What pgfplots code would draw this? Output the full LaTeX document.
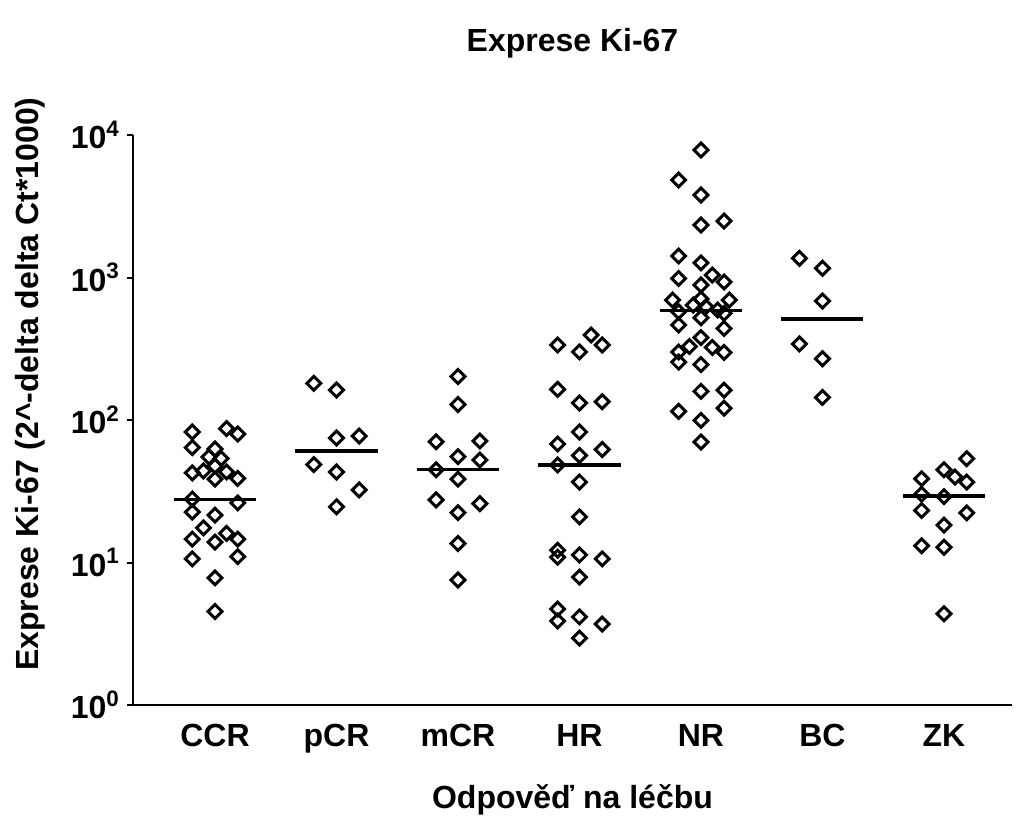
\documentclass[border=0pt]{standalone}
\usepackage{fontspec}
\setmainfont{Liberation Sans}
\usepackage{pgfplots}
\pgfplotsset{compat=1.18}
\newcommand\lbl{\fontsize{16pt}{19pt}\selectfont\bfseries}
\pgfplotsset{dia/.style={only marks, mark=square, mark size=2.45pt, mark options={rotate=45, line width=1.5pt, fill=none, black}}}
\begin{document}
\begin{tikzpicture}
\useasboundingbox (-66.5pt,-63.5pt) rectangle (441.5pt,352.5pt);
\begin{axis}[
  at={(0pt,0pt)}, anchor=south west,
  scale only axis, width=439.5pt, height=285pt,
  xmin=0.325, xmax=7.56, ymin=1, ymax=10000, ymode=log,
  axis x line=bottom, axis y line=left,
  x axis line style={-, line width=1.2pt},
  y axis line style={-, line width=1.2pt},
  xtick={1,...,7}, xticklabels={CCR,pCR,mCR,HR,NR,BC,ZK},
  ytick={1,10,100,1000,10000},
  yticklabels={10\textsuperscript{0},10\textsuperscript{1},10\textsuperscript{2},10\textsuperscript{3},10\textsuperscript{4}},
  yminorticks=false,
  tick align=outside, major tick length=3pt,
  ticklabel style={font=\lbl},
  xtick style={draw=none},
  ytick style={line width=1pt, black},
  xticklabel style={yshift=-3pt},
  clip=false,
  title={Exprese Ki-67},
  title style={at={(axis description cs:0.5,1.140)}, anchor=center, font=\lbl},
  xlabel={Odpověď na léčbu},
  xlabel style={at={(axis description cs:0.5,-0.1667)}, anchor=center, font=\lbl},
  ylabel={Exprese Ki-67 (2\textasciicircum-delta delta Ct*1000)},
  ylabel style={at={(axis description cs:-0.1172,0.563)}, anchor=center, font=\lbl},
]
% CCR
\addplot[dia] coordinates {
(0.813,82.4) (1.095,87.1) (1.187,79.8) (0.813,64.1) (1.0,62.6) (0.95,55.0) (1.05,53.7) (0.813,42.5) (0.905,43.9) (1.0,47.5) (1.095,43.2) (1.0,38.5) (1.187,38.9) (0.813,27.9) (1.187,26.2) (0.813,22.6) (1.0,21.5) (0.905,17.5) (1.095,16.0) (0.813,14.6) (1.0,13.9) (1.187,14.6) (1.187,11.0) (0.813,10.6) (1.0,7.8) (1.0,4.53)};
% pCR
\addplot[dia] coordinates {
(1.813,181) (2.0,162.4) (2.0,74.8) (2.187,77.2) (1.813,48.7) (2.0,43.2) (2.187,32.3) (2.0,24.6)};
% mCR
\addplot[dia] coordinates {
(3,202) (3,128.5) (2.82,70.4) (3.18,71.2) (3,55.3) (3.18,52.4) (2.82,44.8) (3,38.5) (2.82,27.5) (3.18,25.9) (3,22.4) (3,13.6) (3,7.54)};
% HR
\addplot[dia] coordinates {
(3.82,336) (4,301) (4.096,395) (4.187,336) (3.82,164) (4,131.6) (4.187,134.4) (4,82.4) (3.82,67.9) (4.187,62.1) (4,56.4) (3.82,48.3) (4,36.7) (4,20.9) (3.82,12.2) (3.82,10.9) (4,11.3) (4.187,10.6) (4,7.9) (3.82,4.72) (3.82,3.89) (4,4.15) (4.187,3.70) (4,2.95)};
% NR
\addplot[dia] coordinates {
(5,7852) (4.816,4831) (5,3793) (5,2335) (5.19,2490) (4.816,1416) (5,1268) (4.816,984) (5.093,1041) (5.19,930) (5,886) (4.766,695) (5,707) (5.233,695) (4.937,641) (4.816,575) (5.04,624) (5.137,592) (5.19,561) (5,522) (4.816,464) (5.19,439) (5,379) (4.904,328) (5.093,323) (4.816,300) (5.19,298) (4.816,255) (5,245) (5,159) (5.19,162) (5.19,121) (4.816,115) (5,99.5) (5,70.1)};
% BC
\addplot[dia] coordinates {
(5.81,1364) (6,1161) (6,684) (5.81,342) (6,269) (6,144)};
% ZK
\addplot[dia] coordinates {
(7.187,53.5) (7,44.8) (7.09,39.8) (7.187,36.7) (6.816,38.7) (6.816,30.1) (7,29.0) (6.816,23.2) (7.187,22.3) (7,18.3) (6.816,13.1) (7,12.8) (7,4.37)};
% medians
\addplot[black, no marks, line width=1.6pt] coordinates {(0.6625,27.8) (1.3375,27.8)};
\addplot[black, no marks, line width=1.6pt] coordinates {(1.6625,60.6) (2.3375,60.6)};
\addplot[black, no marks, line width=1.6pt] coordinates {(2.6625,45.1) (3.3375,45.1)};
\addplot[black, no marks, line width=1.6pt] coordinates {(3.6625,48.3) (4.3375,48.3)};
\addplot[black, no marks, line width=1.6pt] coordinates {(4.6625,589) (5.3375,589)};
\addplot[black, no marks, line width=1.6pt] coordinates {(5.6625,511) (6.3375,511)};
\addplot[black, no marks, line width=1.6pt] coordinates {(6.6625,29.3) (7.3375,29.3)};
\end{axis}
\end{tikzpicture}
\end{document}
